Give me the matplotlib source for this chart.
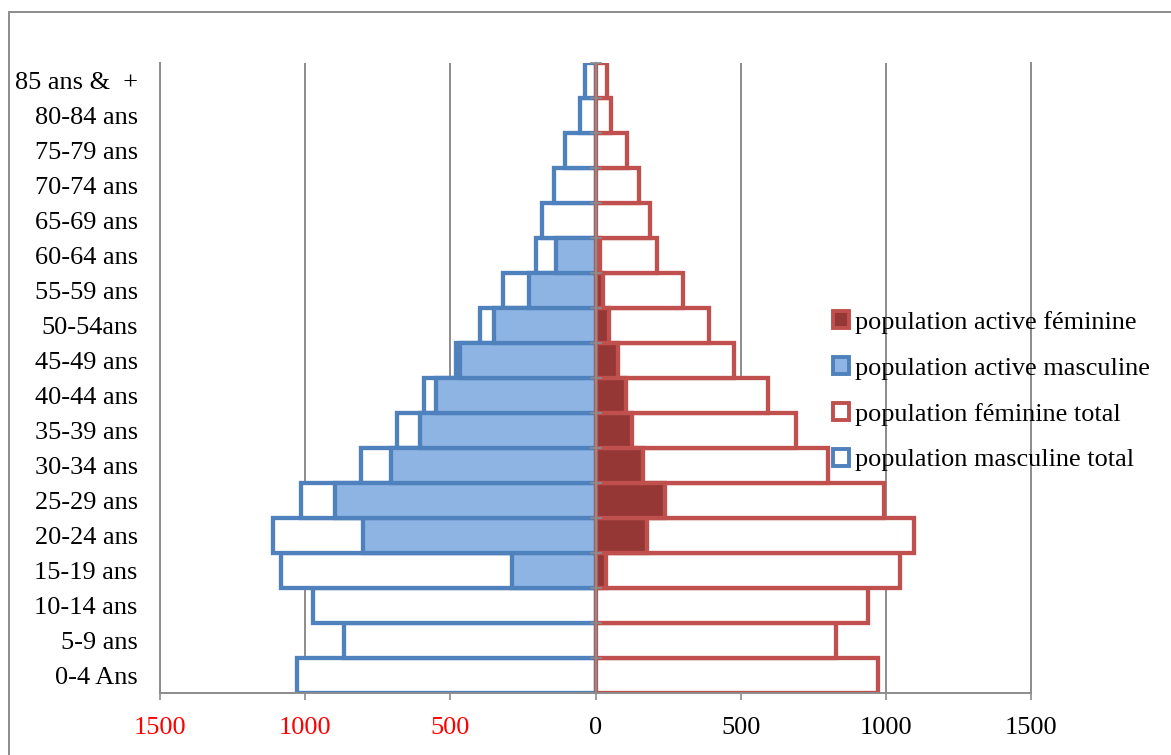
import matplotlib
matplotlib.use('Agg')
import matplotlib.pyplot as plt
import matplotlib.patches as mpatches
import numpy as np

plt.rcParams['font.family'] = ['Liberation Serif', 'DejaVu Serif']

# age groups, bottom to top
ages = ['0-4 Ans', '5-9 ans', '10-14 ans', '15-19 ans', '20-24 ans', '25-29 ans',
        '30-34 ans', '35-39 ans', '40-44 ans', '45-49 ans', '50-54ans', '55-59 ans',
        '60-64 ans', '65-69 ans', '70-74 ans', '75-79 ans', '80-84 ans', '85 ans &  +']

# population values (males plotted on the left)
masc_total = [1027, 866, 974, 1084, 1111, 1014, 807, 684, 590, 480, 397, 320, 206, 183, 143, 104, 52, 35]
masc_active = [0, 0, 0, 288, 800, 898, 706, 605, 550, 465, 351, 228, 136, 0, 0, 0, 0, 0]
fem_total = [972, 830, 938, 1050, 1098, 994, 800, 691, 593, 477, 390, 303, 211, 186, 150, 107, 54, 40]
fem_active = [0, 0, 0, 37, 178, 239, 165, 127, 106, 78, 47, 26, 15, 0, 0, 0, 0, 0]

xticks = [-1500, -1000, -500, 0, 500, 1000, 1500]

blue = '#4F81BD'
blue_fill = '#8EB4E3'
red = '#C0504D'
red_fill = '#953735'
grey = '#8C8C8C'
fs = 18.9

W, H = 1171, 755
fig = plt.figure(figsize=(W / 100, H / 100), dpi=100)
ax = fig.add_axes([160 / W, 1 - 693 / H, (1031 - 160) / W, (693 - 62.5) / H])

y = np.arange(len(ages))
lw = 3.1
ma = np.array(masc_active)
fa = np.array(fem_active)
m_on = ma > 0
f_on = fa > 0

ax.barh(y, -np.array(masc_total), height=1.0, color='white', edgecolor=blue, linewidth=lw, zorder=2)
ax.barh(y, fem_total, height=1.0, color='white', edgecolor=red, linewidth=lw, zorder=2)
ax.barh(y[m_on], -ma[m_on], height=1.0, color=blue_fill, edgecolor=blue, linewidth=lw, zorder=3)
ax.barh(y[f_on], fa[f_on], height=1.0, color=red_fill, edgecolor=red, linewidth=lw, zorder=3)

ax.set_xlim(-1500, 1500)
ax.set_ylim(-0.5, len(ages) - 0.5)

ax.set_xticks(xticks)
ax.set_xticklabels([str(abs(v)) for v in xticks], fontsize=fs)
for lab, v in zip(ax.get_xticklabels(), xticks):
    lab.set_color('red' if v < 0 else 'black')
ax.tick_params(axis='x', direction='out', length=5, width=1.2, color=grey, pad=12)

ax.set_yticks(y)
ax.set_yticklabels(ages, fontsize=fs)
ax.tick_params(axis='y', length=0, pad=16)

ax.grid(axis='x', color=grey, linewidth=1.4, zorder=0)
ax.set_axisbelow(True)
ax.spines['top'].set_visible(False)
for s in ['left', 'right', 'bottom']:
    ax.spines[s].set_color(grey)
    ax.spines[s].set_linewidth(1.4)

# central axis with tick marks between age groups
ax.axvline(0, color=grey, linewidth=1.6, zorder=4)
sec = ax.secondary_yaxis(0.5)
sec.set_yticks(np.arange(len(ages) + 1) - 0.5)
sec.set_yticklabels([])
sec.tick_params(direction='inout', length=9, width=1.2, color=grey)
for sp in sec.spines.values():
    sp.set_color(grey)
    sp.set_linewidth(1.6)
sec.set_zorder(5)

handles = [
    mpatches.Patch(facecolor=red_fill, edgecolor=red, linewidth=2.8, label='population active féminine'),
    mpatches.Patch(facecolor=blue_fill, edgecolor=blue, linewidth=2.8, label='population active masculine'),
    mpatches.Patch(facecolor='white', edgecolor=red, linewidth=2.8, label='population féminine total'),
    mpatches.Patch(facecolor='white', edgecolor=blue, linewidth=2.8, label='population masculine total'),
]
fig.legend(handles=handles, loc='upper left', bbox_to_anchor=(833 / W, 1 - 311 / H),
           frameon=False, fontsize=fs, handlelength=0.6, handleheight=0.6,
           handletextpad=0.25, labelspacing=0.88, borderpad=0, borderaxespad=0)

# chart border (cropped on the right and bottom)
fig.patches.append(mpatches.Rectangle((9 / W, -0.1), 1.2, 1.1 - 12.5 / H, transform=fig.transFigure,
                                      fill=False, edgecolor=grey, linewidth=1.4))

fig.savefig('out.png', dpi=100)
